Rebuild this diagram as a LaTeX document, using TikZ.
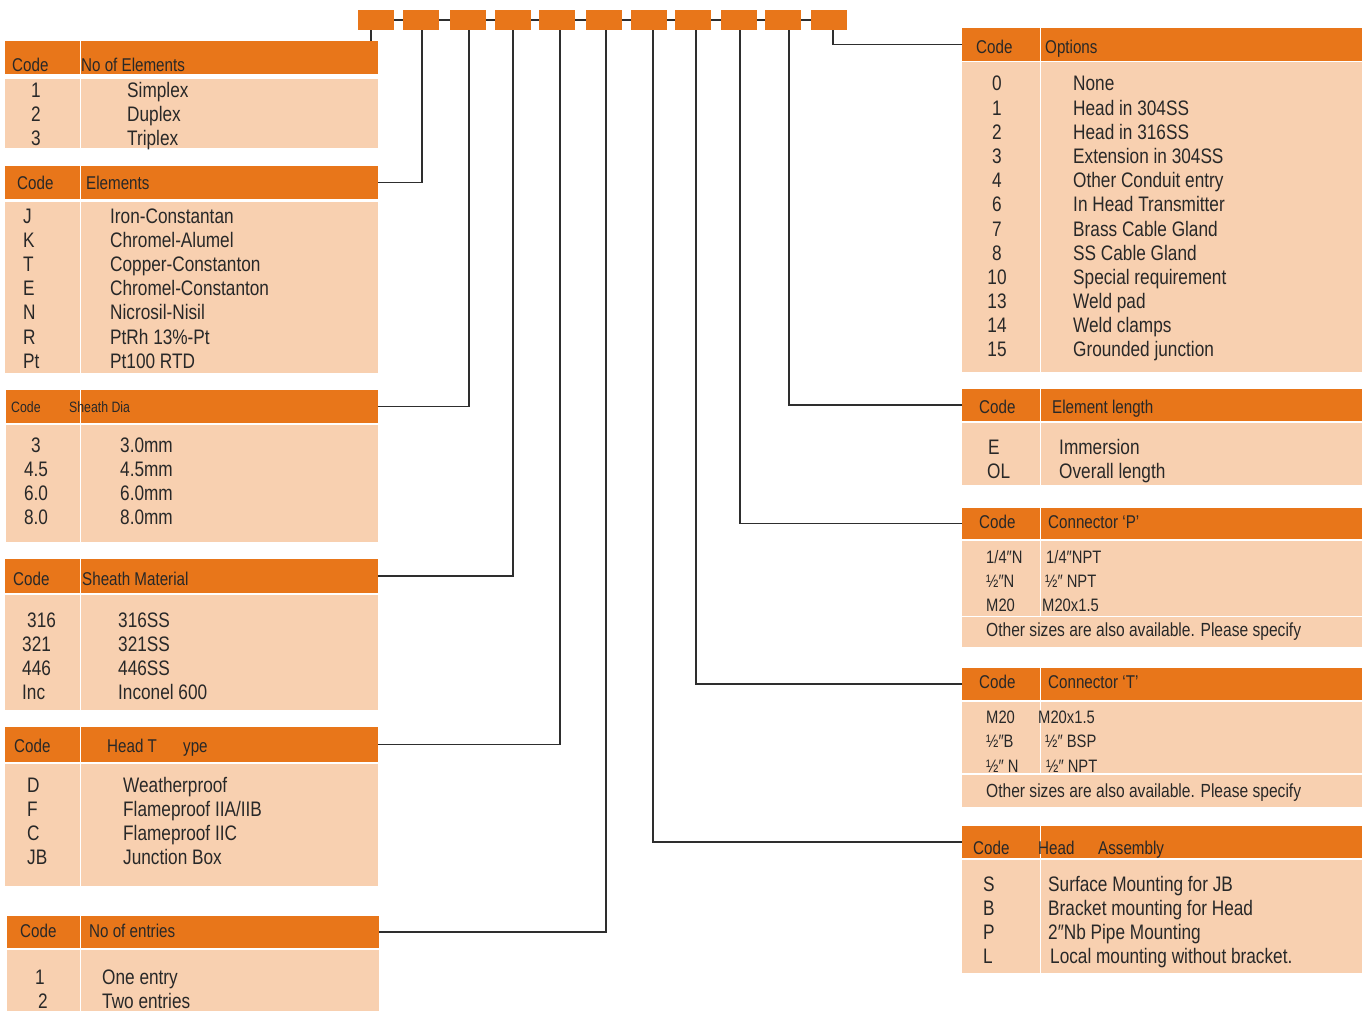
\documentclass[tikz,border=0pt]{standalone}
\usepackage{fontspec}
\setmainfont{Liberation Sans}[FakeStretch=0.82]
\usepackage{tikz}
\definecolor{hdrorange}{HTML}{E8761A}
\definecolor{bodypeach}{HTML}{F8D0B0}
\definecolor{inkgray}{HTML}{282828}
\definecolor{linegray}{HTML}{2E2E2E}
\tikzset{
  hcell/.style={fill=hdrorange, inner sep=0pt, outer sep=0pt, anchor=north west},
  bcell/.style={fill=bodypeach, inner sep=0pt, outer sep=0pt, anchor=north west},
  codebox/.style={fill=hdrorange, inner sep=0pt, outer sep=0pt, minimum width=36pt, minimum height=20pt, anchor=north west},
  hdtxt/.style={anchor=base west, inner sep=0pt, text=inkgray, font=\fontsize{18.5}{20}\selectfont},
  rowtxt/.style={anchor=base west, inner sep=0pt, text=inkgray, font=\fontsize{21}{24}\selectfont},
  rowmid/.style={rowtxt, anchor=base},
  smalltxt/.style={rowtxt, font=\fontsize{18}{20}\selectfont},
  notetxt/.style={rowtxt, font=\fontsize{19}{21}\selectfont},
  link/.style={draw=linegray, line width=1.3pt},
}

\begin{document}
\begin{tikzpicture}[x=1pt, y=-1pt]
    \useasboundingbox (0,0) rectangle (1367,1010);

    \node[codebox] (b1) at (358,10) {};
    \node[codebox] (b2) at (403,10) {};
    \node[codebox] (b3) at (450,10) {};
    \node[codebox] (b4) at (495,10) {};
    \node[codebox] (b5) at (539,10) {};
    \node[codebox] (b6) at (586,10) {};
    \node[codebox] (b7) at (631,10) {};
    \node[codebox] (b8) at (675,10) {};
    \node[codebox] (b9) at (721,10) {};
    \node[codebox] (b10) at (765,10) {};
    \node[codebox] (b11) at (811,10) {};
    \foreach \i [evaluate=\i as \j using int(\i+1)] in {1,...,10}
        \draw[link] (b\i.east) -- (b\j.west);

    \coordinate (d1) at ([xshift=-5pt]b1.south);
    \coordinate (d2) at ([xshift=1pt]b2.south);
    \coordinate (d3) at ([xshift=1pt]b3.south);
    \coordinate (d4) at (b4.south);
    \coordinate (d5) at ([xshift=3pt]b5.south);
    \coordinate (d6) at ([xshift=2pt]b6.south);
    \coordinate (d7) at ([xshift=4pt]b7.south);
    \coordinate (d8) at ([xshift=3pt]b8.south);
    \coordinate (d9) at ([xshift=1pt]b9.south);
    \coordinate (d10) at ([xshift=6pt]b10.south);
    \coordinate (d11) at ([xshift=4pt]b11.south);

    % left column
    \node[hcell, minimum width=75pt, minimum height=33pt] (nelemc) at (5,41) {};
    \node[hcell, minimum width=297pt, minimum height=33pt] (nelemh) at (81,41) {};
    \node[bcell, minimum width=75pt, minimum height=69pt] (nelemb1) at (5,79) {};
    \node[bcell, minimum width=297pt, minimum height=69pt] (nelemb2) at (81,79) {};
    \node[hdtxt] (nelemt1) at (12,71) {Code};
    \node[hdtxt] (nelemt2) at (81,71) {No of Elements};
    \foreach \c/\t [count=\i] in {1/Simplex,2/Duplex,3/Triplex} {
        \node[rowmid] (nelemk\i) at (36,73+24*\i) {\c};
        \node[rowtxt] (nelemv\i) at (127,73+24*\i) {\t};
    }

    \node[hcell, minimum width=75pt, minimum height=33pt] (elemc) at (5,166) {};
    \node[hcell, minimum width=297pt, minimum height=33pt] (elemh) at (81,166) {};
    \node[bcell, minimum width=75pt, minimum height=171pt] (elemb1) at (5,202) {};
    \node[bcell, minimum width=297pt, minimum height=171pt] (elemb2) at (81,202) {};
    \node[hdtxt] (elemt1) at (17,189) {Code};
    \node[hdtxt] (elemt2) at (86,189) {Elements};
    \foreach \c/\t [count=\i] in {J/Iron-Constantan,K/Chromel-Alumel,T/Copper-Constanton,E/Chromel-Constanton,N/Nicrosil-Nisil,R/PtRh 13\%-Pt,Pt/Pt100 RTD} {
        \node[rowtxt] (elemk\i) at (23,198.8+24.2*\i) {\c};
        \node[rowtxt] (elemv\i) at (110,198.8+24.2*\i) {\t};
    }

    \node[hcell, minimum width=74pt, minimum height=33pt] (sdiac) at (6,390) {};
    \node[hcell, minimum width=297pt, minimum height=33pt] (sdiah) at (81,390) {};
    \node[bcell, minimum width=74pt, minimum height=117pt] (sdiab1) at (6,425) {};
    \node[bcell, minimum width=297pt, minimum height=117pt] (sdiab2) at (81,425) {};
    \node[hdtxt, font=\fontsize{15}{17}\selectfont] (sdiat1) at (11,412) {Code};
    \node[hdtxt, font=\fontsize{15}{17}\selectfont] (sdiat2) at (69,412) {Sheath Dia};
    \foreach \c/\t [count=\i] in {3/3.0mm,4.5/4.5mm,6.0/6.0mm,8.0/8.0mm} {
        \node[rowmid] (sdiak\i) at (36,427.8+24.2*\i) {\c};
        \node[rowtxt] (sdiav\i) at (120,427.8+24.2*\i) {\t};
    }

    \node[hcell, minimum width=75pt, minimum height=34pt] (smatc) at (5,559) {};
    \node[hcell, minimum width=297pt, minimum height=34pt] (smath) at (81,559) {};
    \node[bcell, minimum width=75pt, minimum height=115pt] (smatb1) at (5,595) {};
    \node[bcell, minimum width=297pt, minimum height=115pt] (smatb2) at (81,595) {};
    \node[hdtxt] (smatt1) at (13,585) {Code};
    \node[hdtxt] (smatt2) at (82,585) {Sheath Material};
    \foreach \x/\c/\t [count=\i] in {27/316/316SS,22/321/321SS,22/446/446SS,22/Inc/Inconel 600} {
        \node[rowtxt] (smatk\i) at (\x,603+24*\i) {\c};
        \node[rowtxt] (smatv\i) at (118,603+24*\i) {\t};
    }

    \node[hcell, minimum width=75pt, minimum height=35pt] (htypec) at (5,727) {};
    \node[hcell, minimum width=297pt, minimum height=35pt] (htypeh) at (81,727) {};
    \node[bcell, minimum width=75pt, minimum height=122pt] (htypeb1) at (5,764) {};
    \node[bcell, minimum width=297pt, minimum height=122pt] (htypeb2) at (81,764) {};
    \node[hdtxt] (htypet1) at (14,752) {Code};
    \node[hdtxt] (htypet2) at (107,752) {Head T};
    \node[hdtxt] (htypet3) at (183,752) {ype};
    \foreach \c/\t [count=\i] in {D/Weatherproof,F/{Flameproof IIA/IIB},C/Flameproof IIC,JB/Junction Box} {
        \node[rowtxt] (htypek\i) at (27,768+24*\i) {\c};
        \node[rowtxt] (htypev\i) at (123,768+24*\i) {\t};
    }

    \node[hcell, minimum width=73pt, minimum height=32pt] (nentc) at (7,916) {};
    \node[hcell, minimum width=298pt, minimum height=32pt] (nenth) at (81,916) {};
    \node[bcell, minimum width=73pt, minimum height=62pt] (nentb1) at (7,950) {};
    \node[bcell, minimum width=298pt, minimum height=62pt] (nentb2) at (81,950) {};
    \node[hdtxt] (nentt1) at (20,937) {Code};
    \node[hdtxt] (nentt2) at (89,937) {No of entries};
    \node[rowmid] (nentk1) at (40,984) {1};
    \node[rowtxt] (nentv1) at (102,984) {One entry};
    \node[rowmid] (nentk2) at (43,1008) {2};
    \node[rowtxt] (nentv2) at (102,1008) {Two entries};

    % right column
    \node[hcell, minimum width=78pt, minimum height=33pt] (optsc) at (962,28) {};
    \node[hcell, minimum width=321pt, minimum height=33pt] (optsh) at (1041,28) {};
    \node[bcell, minimum width=78pt, minimum height=310pt] (optsb1) at (962,62) {};
    \node[bcell, minimum width=321pt, minimum height=310pt] (optsb2) at (1041,62) {};
    \node[hdtxt] (optst1) at (976,53) {Code};
    \node[hdtxt] (optst2) at (1045,53) {Options};
    \foreach \c/\t [count=\i] in {0/None,1/Head in 304SS,2/Head in 316SS,3/Extension in 304SS,4/Other Conduit entry,6/In Head Transmitter,7/Brass Cable Gland,8/SS Cable Gland,10/Special requirement,13/Weld pad,14/Weld clamps,15/Grounded junction} {
        \node[rowmid] (optsk\i) at (997,66.8+24.18*\i) {\c};
        \node[rowtxt] (optsv\i) at (1073,66.8+24.18*\i) {\t};
    }

    \node[hcell, minimum width=78pt, minimum height=32pt] (elenc) at (962,389) {};
    \node[hcell, minimum width=321pt, minimum height=32pt] (elenh) at (1041,389) {};
    \node[bcell, minimum width=78pt, minimum height=62pt] (elenb1) at (962,423) {};
    \node[bcell, minimum width=321pt, minimum height=62pt] (elenb2) at (1041,423) {};
    \node[hdtxt] (elent1) at (979,413) {Code};
    \node[hdtxt] (elent2) at (1052,413) {Element length};
    \node[rowtxt] (elenk1) at (988,454) {E};
    \node[rowtxt] (elenv1) at (1059,454) {Immersion};
    \node[rowtxt] (elenk2) at (987,478) {OL};
    \node[rowtxt] (elenv2) at (1059,478) {Overall length};

    \node[hcell, minimum width=78pt, minimum height=31pt] (conpc) at (962,508) {};
    \node[hcell, minimum width=321pt, minimum height=31pt] (conph) at (1041,508) {};
    \node[bcell, minimum width=78pt, minimum height=75pt] (conpb1) at (962,541) {};
    \node[bcell, minimum width=321pt, minimum height=75pt] (conpb2) at (1041,541) {};
    \node[bcell, minimum width=400pt, minimum height=30pt] (conpf) at (962,617) {};
    \node[hdtxt] (conpt1) at (979,528) {Code};
    \node[hdtxt] (conpt2) at (1048,528) {Connector ‘P’};
    \node[smalltxt] (conpk1) at (986,563) {1/4″N};
    \node[smalltxt] (conpv1) at (1046,563) {1/4″NPT};
    \node[smalltxt] (conpk2) at (986,587) {½″N};
    \node[smalltxt] (conpv2) at (1045,587) {½″ NPT};
    \node[smalltxt] (conpk3) at (986,611) {M20};
    \node[smalltxt] (conpv3) at (1042,611) {M20x1.5};
    \node[notetxt] (conpn) at (986,636) {Other sizes are also available. Please specify};

    \node[hcell, minimum width=78pt, minimum height=32pt] (contc) at (962,668) {};
    \node[hcell, minimum width=321pt, minimum height=32pt] (conth) at (1041,668) {};
    \node[bcell, minimum width=78pt, minimum height=71pt] (contb1) at (962,702) {};
    \node[bcell, minimum width=321pt, minimum height=71pt] (contb2) at (1041,702) {};
    \node[bcell, minimum width=400pt, minimum height=32pt] (contf) at (962,775) {};
    \node[hdtxt] (contt1) at (979,688) {Code};
    \node[hdtxt] (contt2) at (1048,688) {Connector ‘T’};
    \node[smalltxt] (contk1) at (986,723) {M20};
    \node[smalltxt] (contv1) at (1038,723) {M20x1.5};
    \node[smalltxt] (contk2) at (986,747) {½″B};
    \node[smalltxt] (contv2) at (1045,747) {½″ BSP};
    \node[smalltxt] (contk3) at (986,772) {½″ N};
    \node[smalltxt] (contv3) at (1046,772) {½″ NPT};
    \node[notetxt] (contn) at (986,797) {Other sizes are also available. Please specify};

    \node[hcell, minimum width=78pt, minimum height=32pt] (hasmc) at (962,826) {};
    \node[hcell, minimum width=321pt, minimum height=32pt] (hasmh) at (1041,826) {};
    \node[bcell, minimum width=78pt, minimum height=113pt] (hasmb1) at (962,860) {};
    \node[bcell, minimum width=321pt, minimum height=113pt] (hasmb2) at (1041,860) {};
    \node[hdtxt] (hasmt1) at (973,854) {Code};
    \node[hdtxt] (hasmt2) at (1038,854) {Head};
    \node[hdtxt] (hasmt3) at (1098,854) {Assembly};
    \foreach \x/\c/\t [count=\i] in {983/S/Surface Mounting for JB,983/B/Bracket mounting for Head,983/P/2″Nb Pipe Mounting,983/L/{\hspace{2pt}Local mounting without bracket.}} {
        \node[rowtxt] (hasmk\i) at (\x,867+24*\i) {\c};
        \node[rowtxt] (hasmv\i) at (1048,867+24*\i) {\t};
    }

    % connectors
    \draw[link] (d1) -- (d1 |- nelemh.north);
    \draw[link] (d2) |- (elemh.east);
    \draw[link] (d3) |- (sdiah.east);
    \draw[link] (d4) |- (smath.east);
    \draw[link] (d5) |- (htypeh.east);
    \draw[link] (d6) |- (nenth.east);
    \draw[link] (d7) |- (hasmc.west);
    \draw[link] (d8) |- (contc.west);
    \draw[link] (d9) |- (conpc.west);
    \draw[link] (d10) |- (elenc.west);
    \draw[link] (d11) |- (optsc.west);
\end{tikzpicture}
\end{document}
